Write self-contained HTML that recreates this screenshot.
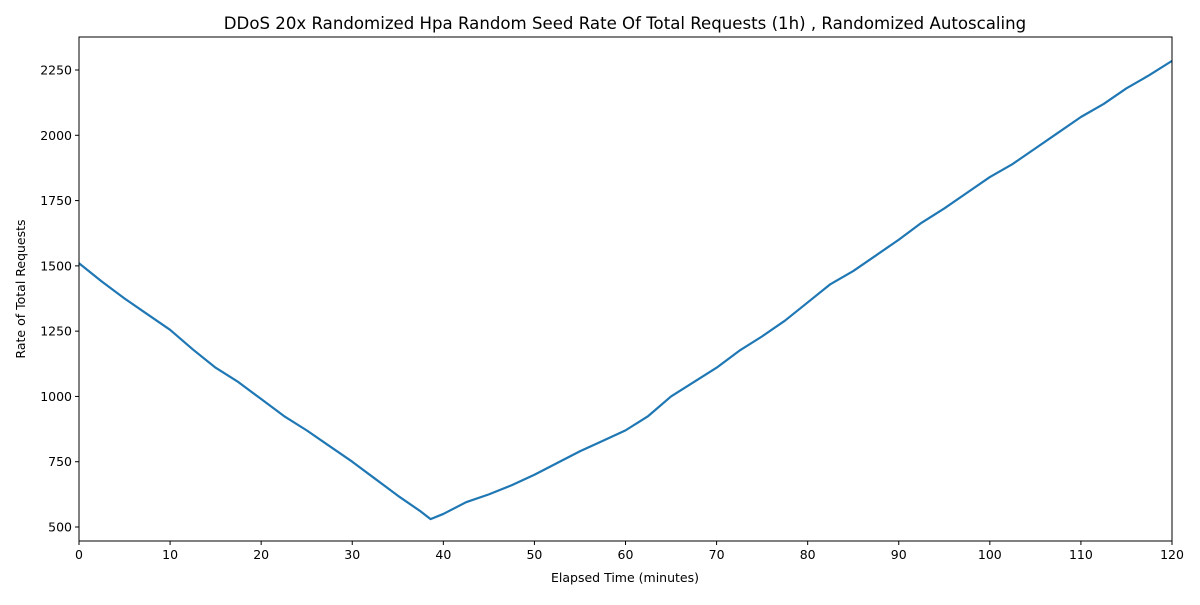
<!DOCTYPE html>
<html><head><meta charset="utf-8"><style>
body{margin:0;background:#fff}
svg text{font-family:"DejaVu Sans","Liberation Sans",sans-serif}
</style></head><body>
<svg id="chart" width="1200" height="600">
<rect width="1200" height="600" fill="#fff"/>
<text x="625" y="29" text-anchor="middle" font-size="16.6">DDoS 20x Randomized Hpa Random Seed Rate Of Total Requests (1h) , Randomized Autoscaling</text>
<g id="axes"></g>
<text x="625" y="582" text-anchor="middle" font-size="12.5">Elapsed Time (minutes)</text>
<text transform="translate(25,289) rotate(-90)" text-anchor="middle" font-size="12.5">Rate of Total Requests</text>
</svg>
<script>
const times=[0,2.5,5,7.5,10,12.5,15,17.5,20,22.5,25,27.5,30,32.5,35,37.5,38.6,40,42.5,45,47.5,50,52.5,55,57.5,60,62.5,65,67.5,70,72.5,75,77.5,80,82.5,85,87.5,90,92.5,95,97.5,100,102.5,105,107.5,110,112.5,115,117.5,120];
const rates=[1510,1440,1375,1315,1255,1180,1110,1055,990,925,870,810,750,685,620,560,530,550,595,625,660,700,745,790,830,870,925,1000,1055,1110,1175,1230,1290,1360,1430,1480,1540,1600,1665,1720,1780,1840,1890,1950,2010,2070,2120,2180,2230,2285];
const xTicks=[0,10,20,30,40,50,60,70,80,90,100,110,120];
const yTicks=[500,750,1000,1250,1500,1750,2000,2250];
const L=79,R=1172,T=37,B=541,ymin=446.4,ymax=2376.4;
const xs=v=>L+(v-0)/(120-0)*(R-L);
const ys=v=>B-(v-ymin)/(ymax-ymin)*(B-T);
const g=document.getElementById('axes');
const NS='http://www.w3.org/2000/svg';
function mk(t,a){const e=document.createElementNS(NS,t);for(const k in a)e.setAttribute(k,a[k]);g.appendChild(e);return e;}
xTicks.forEach(v=>{
 const l=mk('line',{x1:xs(v),x2:xs(v),y1:B,y2:B+4,stroke:'#000'});
 
 
 const t=mk('text',{x:xs(v),y:B+18,'text-anchor':'middle','font-size':12.5});t.textContent=v;
 
 
});
yTicks.forEach(v=>{
 const l=mk('line',{x1:L-4,x2:L,y1:ys(v),y2:ys(v),stroke:'#000'});
 
 
 const t=mk('text',{x:L-7,y:ys(v)+4.5,'text-anchor':'end','font-size':12.5});t.textContent=v;
 
 
});
const p=mk('polyline',{points:times.map((t,i)=>xs(t)+','+ys(rates[i])).join(' '),fill:'none',stroke:'#1f77b4','stroke-width':2.2,'stroke-linejoin':'round'});


const f=mk('rect',{x:L,y:T,width:R-L,height:B-T,fill:'none',stroke:'#000','stroke-width':1});


</script>
</body></html>
